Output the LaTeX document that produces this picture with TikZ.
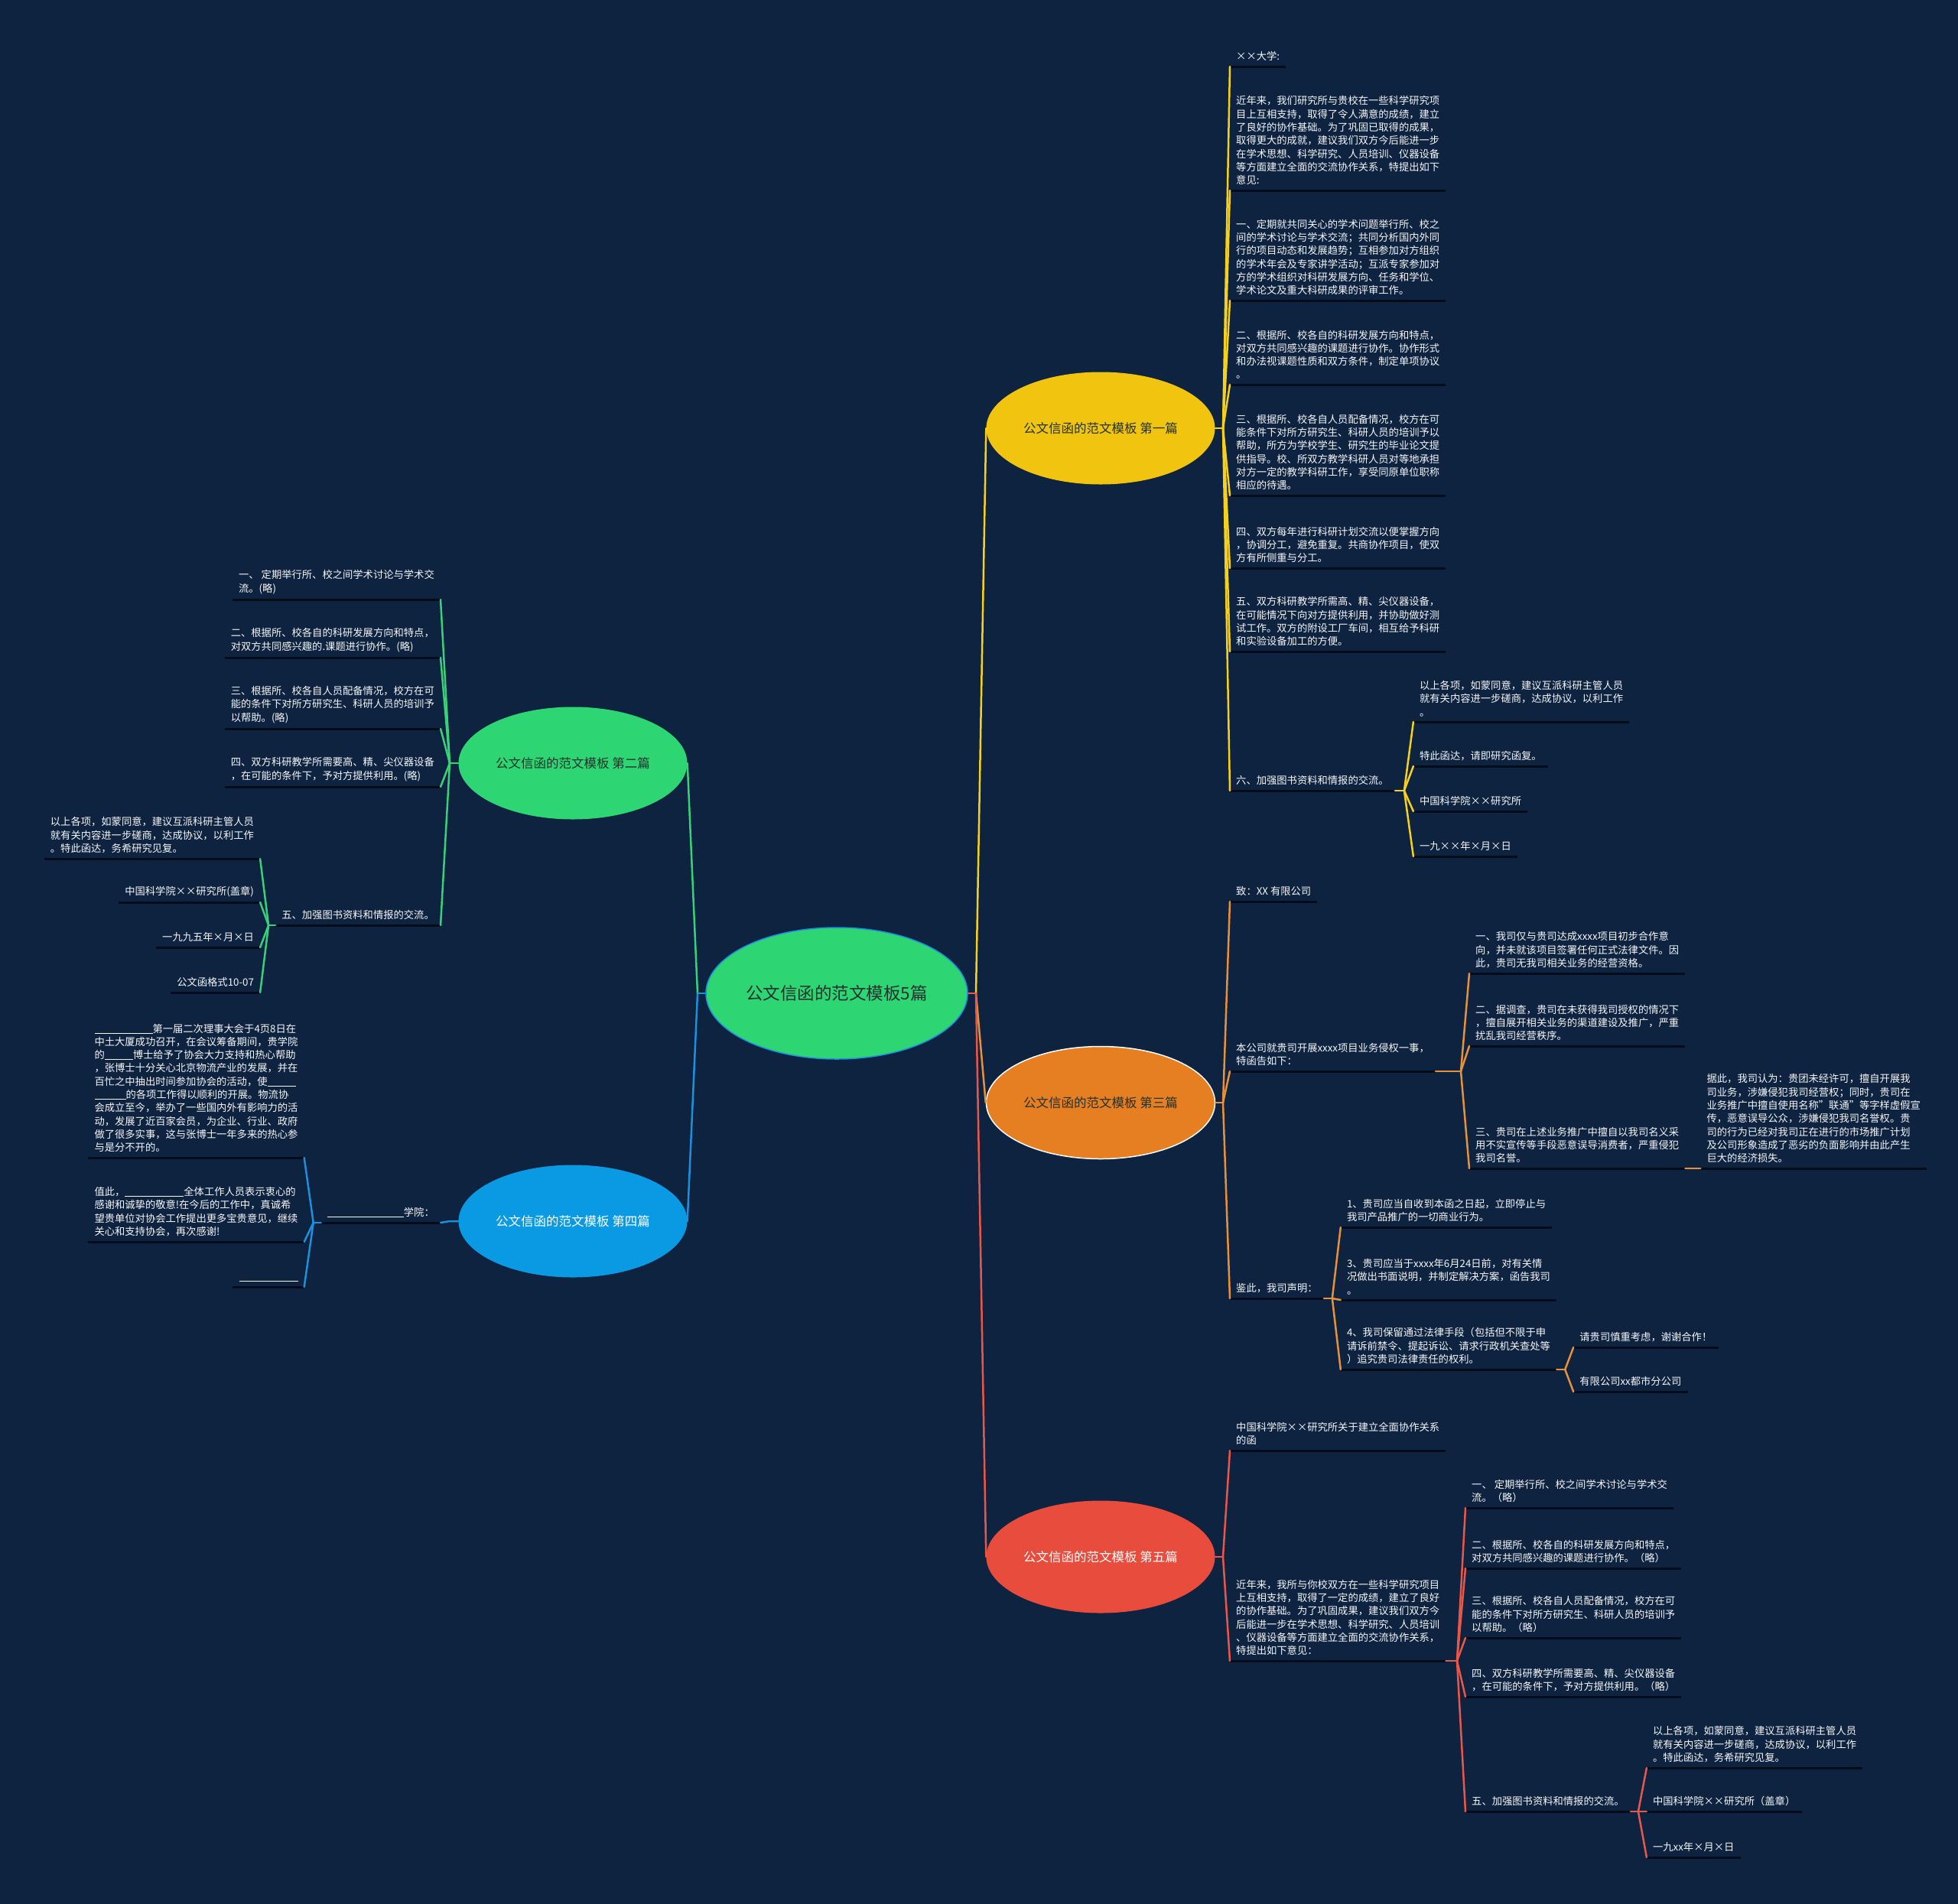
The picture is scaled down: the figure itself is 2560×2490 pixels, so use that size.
\documentclass[tikz,border=0pt]{standalone}
\usepackage{fontspec}
\setmainfont{Noto Sans CJK SC}
\usetikzlibrary{shapes.geometric}
\definecolor{bgc}{RGB}{13,35,64}
\definecolor{ulc}{RGB}{3,12,26}
\definecolor{cyel}{RGB}{245,208,30}
\definecolor{fyel}{RGB}{241,196,15}
\definecolor{corg}{RGB}{232,145,59}
\definecolor{forg}{RGB}{230,126,34}
\definecolor{cred}{RGB}{232,87,74}
\definecolor{fred}{RGB}{231,76,60}
\definecolor{cgrn}{RGB}{56,208,122}
\definecolor{fgrn}{RGB}{46,213,115}
\definecolor{cblu}{RGB}{28,144,220}
\definecolor{fblu}{RGB}{10,154,228}
\definecolor{tdark}{RGB}{35,50,45}
\newcommand{\gapline}[1]{\rule[-1.5pt]{#1pt}{0.9pt}}
\begin{document}
\begin{tikzpicture}[x=1pt,y=-1pt,
  leaf/.style={text=white!94!gray, align=left, font=\fontsize{13.3pt}{17.3pt}\selectfont, inner xsep=8pt, inner ysep=7pt},
  leafR/.style={leaf,anchor=south west},
  leafL/.style={leaf,anchor=south east},
  ul/.style={draw=ulc,line width=3pt},
  con/.style={line width=2.5pt, line cap=round},
  rootnode/.style={ellipse, minimum width=342pt, minimum height=172pt, inner sep=0pt, fill=fgrn, draw=cblu, line width=1.5pt, text=tdark, font=\fontsize{22.5pt}{27pt}\selectfont},
  branch/.style={ellipse, minimum width=299pt, minimum height=147pt, inner sep=0pt, font=\fontsize{16.5pt}{20pt}\selectfont},
]
\fill[bgc] (0,0) rectangle (2560,2490);
\useasboundingbox (0,0) rectangle (2560,2490);

% ---------- central and branch nodes ----------
\node[rootnode] (R) at (1094,1299) {公文信函的范文模板5篇};
\node[branch, fill=fyel, text=tdark] (B1) at (1439,560) {公文信函的范文模板 第一篇};
\node[branch, fill=forg, draw=white, line width=1.5pt, text=tdark] (B3) at (1439,1442) {公文信函的范文模板 第三篇};
\node[branch, fill=fred, text=white] (B5) at (1439,2036) {公文信函的范文模板 第五篇};
\node[branch, fill=fgrn, text=tdark] (B2) at (749,998) {公文信函的范文模板 第二篇};
\node[branch, fill=fblu, text=white] (B4) at (749,1597) {公文信函的范文模板 第四篇};

% ---------- branch 1 ----------
\node[leafR] (b1a) at (1608,87) {××大学:};
\node[leafR] (b1b) at (1608,249) {近年来，我们研究所与贵校在一些科学研究项\\目上互相支持，取得了令人满意的成绩，建立\\了良好的协作基础。为了巩固已取得的成果，\\取得更大的成就，建议我们双方今后能进一步\\在学术思想、科学研究、人员培训、仪器设备\\等方面建立全面的交流协作关系，特提出如下\\意见:};
\node[leafR] (b1c) at (1608,393) {一、定期就共同关心的学术问题举行所、校之\\间的学术讨论与学术交流；共同分析国内外同\\行的项目动态和发展趋势；互相参加对方组织\\的学术年会及专家讲学活动；互派专家参加对\\方的学术组织对科研发展方向、任务和学位、\\学术论文及重大科研成果的评审工作。};
\node[leafR] (b1d) at (1608,503) {二、根据所、校各自的科研发展方向和特点，\\对双方共同感兴趣的课题进行协作。协作形式\\和办法视课题性质和双方条件，制定单项协议\\。};
\node[leafR] (b1e) at (1608,648) {三、根据所、校各自人员配备情况，校方在可\\能条件下对所方研究生、科研人员的培训予以\\帮助，所方为学校学生、研究生的毕业论文提\\供指导。校、所双方教学科研人员对等地承担\\对方一定的教学科研工作，享受同原单位职称\\相应的待遇。};
\node[leafR] (b1f) at (1608,743) {四、双方每年进行科研计划交流以便掌握方向\\，协调分工，避免重复。共商协作项目，使双\\方有所侧重与分工。};
\node[leafR] (b1g) at (1608,852) {五、双方科研教学所需高、精、尖仪器设备，\\在可能情况下向对方提供利用，并协助做好测\\试工作。双方的附设工厂车间，相互给予科研\\和实验设备加工的方便。};
\node[leafR] (b1h) at (1608,1034) {六、加强图书资料和情报的交流。};
\coordinate (h1h) at ([xshift=12pt]b1h.south east);
\node[leafR,xshift=12pt] (b1h1) at (h1h |- 0,944) {以上各项，如蒙同意，建议互派科研主管人员\\就有关内容进一步磋商，达成协议，以利工作\\。};
\node[leafR,xshift=12pt] (b1h2) at (h1h |- 0,1002) {特此函达，请即研究函复。};
\node[leafR,xshift=12pt] (b1h3) at (h1h |- 0,1061) {中国科学院××研究所};
\node[leafR,xshift=12pt] (b1h4) at (h1h |- 0,1120) {一九××年×月×日};

% ---------- branch 3 ----------
\node[leafR] (b3a) at (1608,1179) {致：XX 有限公司};
\node[leafR] (b3b) at (1608,1401) {本公司就贵司开展xxxx项目业务侵权一事，\\特函告如下：};
\coordinate (h3b) at (1910,1401);
\node[leafR,xshift=11pt] (b3b1) at (h3b |- 0,1273) {一、我司仅与贵司达成xxxx项目初步合作意\\向，并未就该项目签署任何正式法律文件。因\\此，贵司无我司相关业务的经营资格。};
\node[leafR,xshift=11pt] (b3b2) at (h3b |- 0,1368) {二、据调查，贵司在未获得我司授权的情况下\\，擅自展开相关业务的渠道建设及推广，严重\\扰乱我司经营秩序。};
\node[leafR,xshift=11pt] (b3b3) at (h3b |- 0,1528) {三、贵司在上述业务推广中擅自以我司名义采\\用不实宣传等手段恶意误导消费者，严重侵犯\\我司名誉。};
\coordinate (h3b3) at ([xshift=9pt]b3b3.south east);
\node[leafR,xshift=11pt] (b3b3a) at (h3b3 |- 0,1528) {据此，我司认为：贵团未经许可，擅自开展我\\司业务，涉嫌侵犯我司经营权；同时，贵司在\\业务推广中擅自使用名称"联通"等字样虚假宣\\传，恶意误导公众，涉嫌侵犯我司名誉权。贵\\司的行为已经对我司正在进行的市场推广计划\\及公司形象造成了恶劣的负面影响并由此产生\\巨大的经济损失。};
\node[leafR] (b3c) at (1608,1698) {鉴此，我司声明：};
\coordinate (h3c) at ([xshift=11pt]b3c.south east);
\node[leafR,xshift=11pt] (b3c1) at (h3c |- 0,1605) {1、贵司应当自收到本函之日起，立即停止与\\我司产品推广的一切商业行为。};
\node[leafR,xshift=11pt] (b3c2) at (h3c |- 0,1700) {3、贵司应当于xxxx年6月24日前，对有关情\\况做出书面说明，并制定解决方案，函告我司\\。};
\node[leafR,xshift=11pt] (b3c3) at (h3c |- 0,1791) {4、我司保留通过法律手段（包括但不限于申\\请诉前禁令、提起诉讼、请求行政机关查处等\\）追究贵司法律责任的权利。};
\coordinate (h3c3) at ([xshift=11pt]b3c3.south east);
\node[leafR,xshift=11pt] (b3c3a) at (h3c3 |- 0,1762) {请贵司慎重考虑，谢谢合作！};
\node[leafR,xshift=11pt] (b3c3b) at (h3c3 |- 0,1820) {有限公司xx都市分公司};

% ---------- branch 5 ----------
\node[leafR] (b5a) at (1608,1897) {中国科学院××研究所关于建立全面协作关系\\的函};
\node[leafR] (b5b) at (1608,2172) {近年来，我所与你校双方在一些科学研究项目\\上互相支持，取得了一定的成绩，建立了良好\\的协作基础。为了巩固成果，建议我们双方今\\后能进一步在学术思想、科学研究、人员培训\\、仪器设备等方面建立全面的交流协作关系，\\特提出如下意见：};
\coordinate (h5b) at (1905,2172);
\node[leafR,xshift=11pt] (b5b1) at (h5b |- 0,1972) {一、 定期举行所、校之间学术讨论与学术交\\流。（略）};
\node[leafR,xshift=11pt] (b5b2) at (h5b |- 0,2051) {二、根据所、校各自的科研发展方向和特点，\\对双方共同感兴趣的课题进行协作。（略）};
\node[leafR,xshift=11pt] (b5b3) at (h5b |- 0,2142) {三、根据所、校各自人员配备情况，校方在可\\能的条件下对所方研究生、科研人员的培训予\\以帮助。（略）};
\node[leafR,xshift=11pt] (b5b4) at (h5b |- 0,2219) {四、双方科研教学所需要高、精、尖仪器设备\\，在可能的条件下，予对方提供利用。（略）};
\node[leafR,xshift=11pt] (b5b5) at (h5b |- 0,2369) {五、加强图书资料和情报的交流。};
\coordinate (h5b5) at ([xshift=10pt]b5b5.south east);
\node[leafR,xshift=11pt] (b5b5a) at (h5b5 |- 0,2312) {以上各项，如蒙同意，建议互派科研主管人员\\就有关内容进一步磋商，达成协议，以利工作\\。特此函达，务希研究见复。};
\node[leafR,xshift=11pt] (b5b5b) at (h5b5 |- 0,2369) {中国科学院××研究所（盖章）};
\node[leafR,xshift=11pt] (b5b5c) at (h5b5 |- 0,2429) {一九xx年×月×日};

% ---------- branch 2 ----------
\node[leafL] (b2a) at (576,784) {一、 定期举行所、校之间学术讨论与学术交\\流。(略)};
\node[leafL] (b2b) at (576,860) {二、根据所、校各自的科研发展方向和特点，\\对双方共同感兴趣的.课题进行协作。(略)};
\node[leafL] (b2c) at (576,953) {三、根据所、校各自人员配备情况，校方在可\\能的条件下对所方研究生、科研人员的培训予\\以帮助。(略)};
\node[leafL] (b2d) at (576,1029) {四、双方科研教学所需要高、精、尖仪器设备\\，在可能的条件下，予对方提供利用。(略)};
\node[leafL] (b2e) at (576,1210) {五、加强图书资料和情报的交流。};
\coordinate (h2e) at ([xshift=-9pt]b2e.south west);
\node[leafL,xshift=-11pt] (b2e1) at (h2e |- 0,1123) {以上各项，如蒙同意，建议互派科研主管人员\\就有关内容进一步磋商，达成协议，以利工作\\。特此函达，务希研究见复。};
\node[leafL,xshift=-11pt] (b2e2) at (h2e |- 0,1180) {中国科学院××研究所(盖章)};
\node[leafL,xshift=-11pt] (b2e3) at (h2e |- 0,1239) {一九九五年×月×日};
\node[leafL,xshift=-11pt] (b2e4) at (h2e |- 0,1298) {公文函格式10-07};

% ---------- branch 4 ----------
\node[leafL] (b4a) at (576,1599) {\gapline{100}学院：};
\coordinate (h4a) at ([xshift=-10pt]b4a.south west);
\node[leafL,xshift=-12pt] (b4a1) at (h4a |- 0,1514) {\gapline{76}第一届二次理事大会于4页8日在\\中土大厦成功召开，在会议筹备期间，贵学院\\的\gapline{37}博士给予了协会大力支持和热心帮助\\，张博士十分关心北京物流产业的发展，并在\\百忙之中抽出时间参加协会的活动，使\gapline{37}\\\gapline{41}的各项工作得以顺利的开展。物流协\\会成立至今，举办了一些国内外有影响力的活\\动，发展了近百家会员，为企业、行业、政府\\做了很多实事，这与张博士一年多来的热心参\\与是分不开的。};
\node[leafL,xshift=-12pt] (b4a2) at (h4a |- 0,1624) {值此，\gapline{77}全体工作人员表示衷心的\\感谢和诚挚的敬意!在今后的工作中，真诚希\\望贵单位对协会工作提出更多宝贵意见，继续\\关心和支持协会，再次感谢!};
\node[leafL,xshift=-12pt] (b4a3) at (h4a |- 0,1683) {\gapline{77}};

% ---------- underlines ----------
\foreach \n in {b1a,b1b,b1c,b1d,b1e,b1f,b1g,b1h,b1h1,b1h2,b1h3,b1h4,
  b3a,b3b,b3b1,b3b2,b3b3,b3b3a,b3c,b3c1,b3c2,b3c3,b3c3a,b3c3b,
  b5a,b5b,b5b1,b5b2,b5b3,b5b4,b5b5,b5b5a,b5b5b,b5b5c,
  b2a,b2b,b2c,b2d,b2e,b2e1,b2e2,b2e3,b2e4,
  b4a,b4a1,b4a2,b4a3}
  \draw[ul] (\n.south west) -- (\n.south east);

% ---------- root connectors ----------
\coordinate (Rr) at (1276,1299);
\coordinate (Rl) at (912,1299);
\draw[con,cred] (R.east) -- (Rr);
\draw[con,cyel] (Rr) -- (B1.west);
\draw[con,corg] (Rr) -- (B3.west);
\draw[con,cred] (Rr) -- (B5.west);
\draw[con,cblu] (R.west) -- (Rl);
\draw[con,cgrn] (Rl) -- (B2.east);
\draw[con,cblu] (Rl) -- (B4.east);

% ---------- branch 1 connectors ----------
\coordinate (h1) at (1599,560);
\draw[con,cyel] (B1.east) -- (h1);
\foreach \n in {b1a,b1b,b1c,b1d,b1e,b1f,b1g,b1h}
  \draw[con,cyel] (h1) -- (\n.south west);
\draw[con,cyel] (b1h.south east) -- (h1h);
\foreach \n in {b1h1,b1h2,b1h3,b1h4}
  \draw[con,cyel] (h1h) -- (\n.south west);

% ---------- branch 3 connectors ----------
\coordinate (h3) at (1599,1442);
\draw[con,corg] (B3.east) -- (h3);
\foreach \n in {b3a,b3b,b3c}
  \draw[con,corg] (h3) -- (\n.south west);
\draw[con,corg] (b3b.south east) -- (h3b);
\foreach \n in {b3b1,b3b2,b3b3}
  \draw[con,corg] (h3b) -- (\n.south west);
\draw[con,corg] (b3b3.south east) -- (h3b3) -- (b3b3a.south west);
\draw[con,corg] (b3c.south east) -- (h3c);
\foreach \n in {b3c1,b3c2,b3c3}
  \draw[con,corg] (h3c) -- (\n.south west);
\draw[con,corg] (b3c3.south east) -- (h3c3);
\foreach \n in {b3c3a,b3c3b}
  \draw[con,corg] (h3c3) -- (\n.south west);

% ---------- branch 5 connectors ----------
\coordinate (h5) at (1599,2036);
\draw[con,cred] (B5.east) -- (h5);
\foreach \n in {b5a,b5b}
  \draw[con,cred] (h5) -- (\n.south west);
\draw[con,cred] (b5b.south east) -- (h5b);
\foreach \n in {b5b1,b5b2,b5b3,b5b4,b5b5}
  \draw[con,cred] (h5b) -- (\n.south west);
\draw[con,cred] (b5b5.south east) -- (h5b5);
\foreach \n in {b5b5a,b5b5b,b5b5c}
  \draw[con,cred] (h5b5) -- (\n.south west);

% ---------- branch 2 connectors ----------
\coordinate (h2) at (588,998);
\draw[con,cgrn] (B2.west) -- (h2);
\foreach \n in {b2a,b2b,b2c,b2d,b2e}
  \draw[con,cgrn] (h2) -- (\n.south east);
\draw[con,cgrn] (b2e.south west) -- (h2e);
\foreach \n in {b2e1,b2e2,b2e3,b2e4}
  \draw[con,cgrn] (h2e) -- (\n.south east);

% ---------- branch 4 connectors ----------
\coordinate (h4) at (588,1597);
\draw[con,cblu] (B4.west) -- (h4) -- (b4a.south east);
\draw[con,cblu] (b4a.south west) -- (h4a);
\foreach \n in {b4a1,b4a2,b4a3}
  \draw[con,cblu] (h4a) -- (\n.south east);
\end{tikzpicture}
\end{document}
